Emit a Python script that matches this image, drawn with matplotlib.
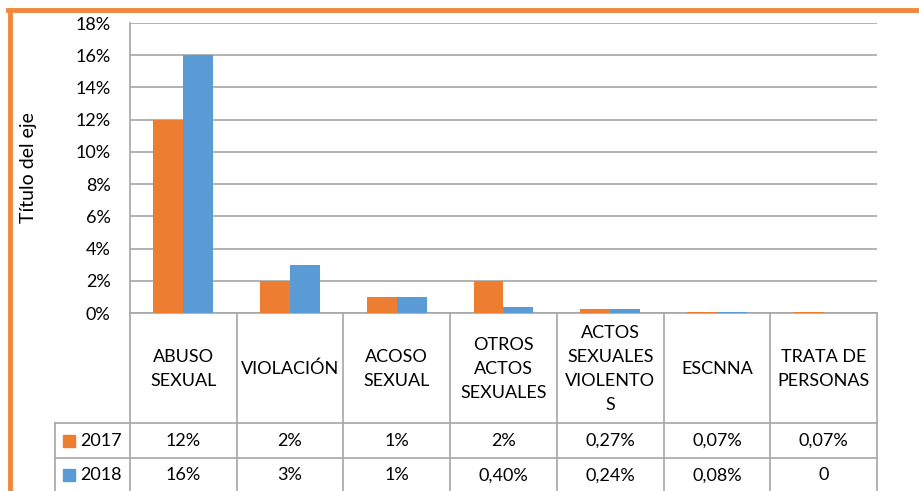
import matplotlib.pyplot as plt
from matplotlib.lines import Line2D
from matplotlib.patches import Rectangle
import numpy as np

categories = ['ABUSO\nSEXUAL', 'VIOLACIÓN', 'ACOSO\nSEXUAL', 'OTROS\nACTOS\nSEXUALES',
              'ACTOS\nSEXUALES\nVIOLENTO\nS', 'ESCNNA', 'TRATA DE\nPERSONAS']
series_names = ['2017', '2018']
values_2017 = [12, 2, 1, 2, 0.27, 0.07, 0.07]
values_2018 = [16, 3, 1, 0.40, 0.24, 0.08, 0]
labels_2017 = ['12%', '2%', '1%', '2%', '0,27%', '0,07%', '0,07%']
labels_2018 = ['16%', '3%', '1%', '0,40%', '0,24%', '0,08%', '0']
colors = ['#ED7D31', '#5B9BD5']

W, H = 920, 491
plt.rcParams['font.family'] = ['Lato', 'DejaVu Sans']
fs = 13

fig = plt.figure(figsize=(W / 100, H / 100), dpi=100)

def fx(px):
    return px / W

def fy(py):
    return 1 - py / H

x0, x1, ytop, ybot = 130, 877, 23, 313
ax = fig.add_axes([fx(x0), fy(ybot), fx(x1) - fx(x0), fy(ytop) - fy(ybot)])

x = np.arange(len(categories))
bw = 0.28
ax.bar(x - bw / 2, values_2017, bw, color=colors[0], zorder=3)
ax.bar(x + bw / 2, values_2018, bw, color=colors[1], zorder=3)

ax.set_xlim(-0.5, len(categories) - 0.5)
ax.set_ylim(0, 18)
ax.set_yticks(range(0, 19, 2))
ax.set_yticklabels([f'{v}%' for v in range(0, 19, 2)], fontsize=fs)
ax.set_xticks([])
ax.tick_params(axis='y', length=0, pad=14)
ax.yaxis.grid(True, color='#A6A6A6', linewidth=1.2, zorder=0)
for s in ['top', 'right']:
    ax.spines[s].set_visible(False)
ax.spines['left'].set_color('#A6A6A6')
ax.spines['bottom'].set_color('#A6A6A6')
ax.spines['left'].set_linewidth(1.2)
ax.spines['bottom'].set_linewidth(1.2)

fig.text(fx(29), fy(168), 'Título del eje', rotation=90, ha='center', va='center', fontsize=14)

# data table
grid_c = '#A6A6A6'
row1, row2, row3 = 423, 458, 491
col_w = (x1 - x0) / len(categories)
lab_left = 55

def hline(xa, xb, py):
    fig.add_artist(Line2D([fx(xa), fx(xb)], [fy(py), fy(py)], color=grid_c, lw=1.2))

def vline(px, ya, yb):
    fig.add_artist(Line2D([fx(px), fx(px)], [fy(ya), fy(yb)], color=grid_c, lw=1.2))

hline(lab_left, x1, row1)
hline(lab_left, x1, row2)
for i in range(len(categories) + 1):
    vline(x0 + i * col_w, ybot, H)
vline(lab_left, row1, H)

for i, cat in enumerate(categories):
    cx = x0 + (i + 0.5) * col_w
    fig.text(fx(cx), fy((ybot + row1) / 2 + 1), cat, ha='center', va='center',
             fontsize=fs, linespacing=1.6)
    fig.text(fx(cx), fy((row1 + row2) / 2), labels_2017[i], ha='center', va='center', fontsize=fs)
    fig.text(fx(cx), fy((row2 + row3) / 2 + 1), labels_2018[i], ha='center', va='center', fontsize=fs)

for name, c, (ya, yb) in zip(series_names, colors, [(row1, row2), (row2, row3)]):
    cy = (ya + yb) / 2
    fig.add_artist(Rectangle((fx(63), fy(cy + 6)), fx(12), 12 / H, color=c,
                             transform=fig.transFigure))
    fig.text(fx(80), fy(cy), name, ha='left', va='center', fontsize=fs)

# orange frame
orange = '#F0883E'
fig.add_artist(Line2D([fx(8), fx(W)], [fy(10), fy(10)], color=orange, lw=3.5))
fig.add_artist(Line2D([fx(10), fx(10)], [fy(10), fy(H)], color=orange, lw=3.5))

fig.savefig('out.png', dpi=100)
